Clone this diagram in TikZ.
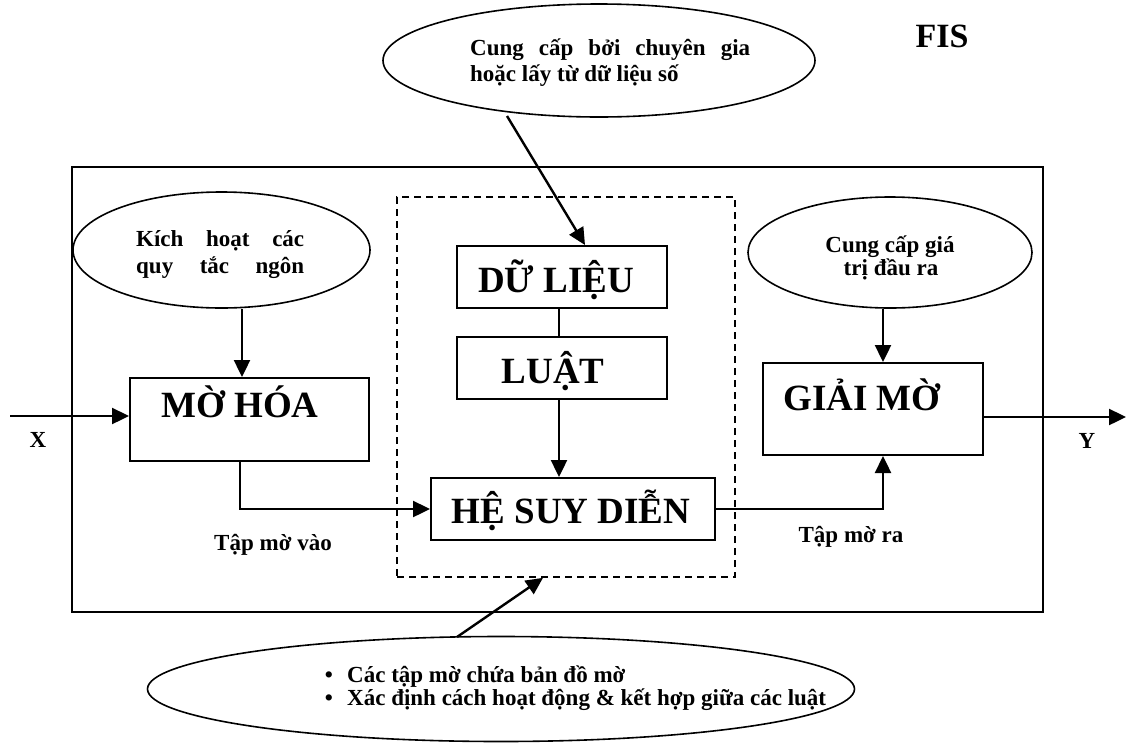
\documentclass[tikz,border=0pt]{standalone}
\usepackage{fontspec}
\setmainfont{Liberation Serif}
\usetikzlibrary{arrows.meta,shapes.geometric}
\begin{document}
\begin{tikzpicture}[x=1pt,y=-1pt,
  txt/.style={inner sep=0pt,font=\fontsize{23}{27}\selectfont\bfseries},
  big/.style={inner sep=0pt,font=\fontsize{37}{44}\selectfont\bfseries},
  blk/.style={draw,line width=2pt,rectangle,inner sep=0pt},
  bubble/.style={draw,line width=1.6pt,ellipse,inner sep=0pt},
  arr/.style={line width=2.4pt,-{Triangle[length=17pt,width=16pt]}},
  link/.style={line width=2pt}]
\useasboundingbox (0,0) rectangle (1127,745);

% outer frame of the fuzzy inference system
\node[draw,line width=2pt,minimum width=971pt,minimum height=445pt,inner sep=0pt] (fis) at (557.5,389.5) {};
\node[inner sep=0pt,font=\fontsize{34}{40}\selectfont\bfseries,anchor=base] (fisname) at (942,47) {FIS};

% rule base region
\node[draw,line width=1.7pt,dash pattern=on 7pt off 5pt,minimum width=338pt,minimum height=380pt,inner sep=0pt] (rules) at (566,387) {};

% blocks
\node[blk,minimum width=239pt,minimum height=83pt] (mo) at (249.5,419.5) {};
\node[big,anchor=base] (motxt) at (240,417) {MỜ HÓA};
\node[blk,minimum width=210pt,minimum height=62pt] (dl) at (562,277) {};
\node[big,anchor=base] (dltxt) at (556,292) {DỮ LIỆU};
\node[blk,minimum width=210pt,minimum height=62pt] (luat) at (562,368) {};
\node[big,anchor=base] (luattxt) at (553,383) {LUẬT};
\node[blk,minimum width=284pt,minimum height=62pt] (he) at (573,509) {};
\node[big,anchor=base] (hetxt) at (571,523) {HỆ SUY DIỄN};
\node[blk,minimum width=220pt,minimum height=92pt] (gm) at (873,409) {};
\node[big,anchor=base] (gmtxt) at (862,410) {GIẢI MỜ};

% callout bubbles
\node[bubble,minimum width=432pt,minimum height=113pt] (top) at (599,60.5) {};
\node[txt,anchor=base west] (topa) at (470,55) {\makebox[280pt][s]{Cung cấp bởi chuyên gia}};
\node[txt,anchor=base west] (topb) at (470,81) {hoặc lấy từ dữ liệu số};

\node[bubble,minimum width=297pt,minimum height=116pt] (lel) at (221.5,250) {};
\node[txt,anchor=base west] (lela) at (136,246) {\makebox[168pt][s]{Kích hoạt các}};
\node[txt,anchor=base west] (lelb) at (136,273) {\makebox[168pt][s]{quy tắc ngôn}};

\node[bubble,minimum width=284pt,minimum height=111pt] (rel) at (890,252.5) {};
\node[txt,anchor=base] (rela) at (890,252) {Cung cấp giá};
\node[txt,anchor=base] (relb) at (891,275) {trị đầu ra};

\node[bubble,minimum width=707pt,minimum height=105pt] (bel) at (501,689) {};
\node[txt,anchor=base] (bula) at (329,682) {•};
\node[txt,anchor=base west] (bela) at (347,682) {Các tập mờ chứa bản đồ mờ};
\node[txt,anchor=base] (bulb) at (329,705) {•};
\node[txt,anchor=base west] (belb) at (347,705) {Xác định cách hoạt động \& kết hợp giữa các luật};

% signal labels
\node[txt,anchor=base] (xl) at (38,447) {X};
\node[txt,anchor=base] (yl) at (1087,448) {Y};
\node[txt,anchor=base] (inl) at (273,550) {Tập mờ vào};
\node[txt,anchor=base] (outl) at (851,542) {Tập mờ ra};

% connector end points
\coordinate (xin) at (10,416);
\coordinate (yout) at (1126,417);
\coordinate (topfoot) at (507,116);
\coordinate (belhead) at (457,637);
\coordinate (moin) at ([xshift=-7.5pt]mo.north);
\coordinate (moout) at ([xshift=-9.5pt]mo.south);
\coordinate (gmin) at ([xshift=10pt]gm.north);
\coordinate (gmup) at ([xshift=10pt]gm.south);
\coordinate (dlin) at ([xshift=23pt]dl.north);
\coordinate (dlout) at ([xshift=-3pt]dl.south);
\coordinate (rulesin) at ([xshift=-23pt]rules.south);

% connectors
\draw[arr] (xin) -- (xin -| mo.west);
\draw[arr] (lel.south -| moin) -- (moin);
\draw[arr] (rel.south -| gmin) -- (gmin);
\draw[arr] (topfoot) -- (dlin);
\draw[link] (dlout) -- (dlout |- luat.north);
\draw[arr] (dlout |- luat.south) -- (dlout |- he.north);
\draw[arr] (moout) |- (he.west);
\draw[arr] (he.east) -| (gmup);
\draw[arr] (gm.east |- yout) -- (yout);
\draw[arr] (belhead) -- (rulesin);
\end{tikzpicture}
\end{document}
